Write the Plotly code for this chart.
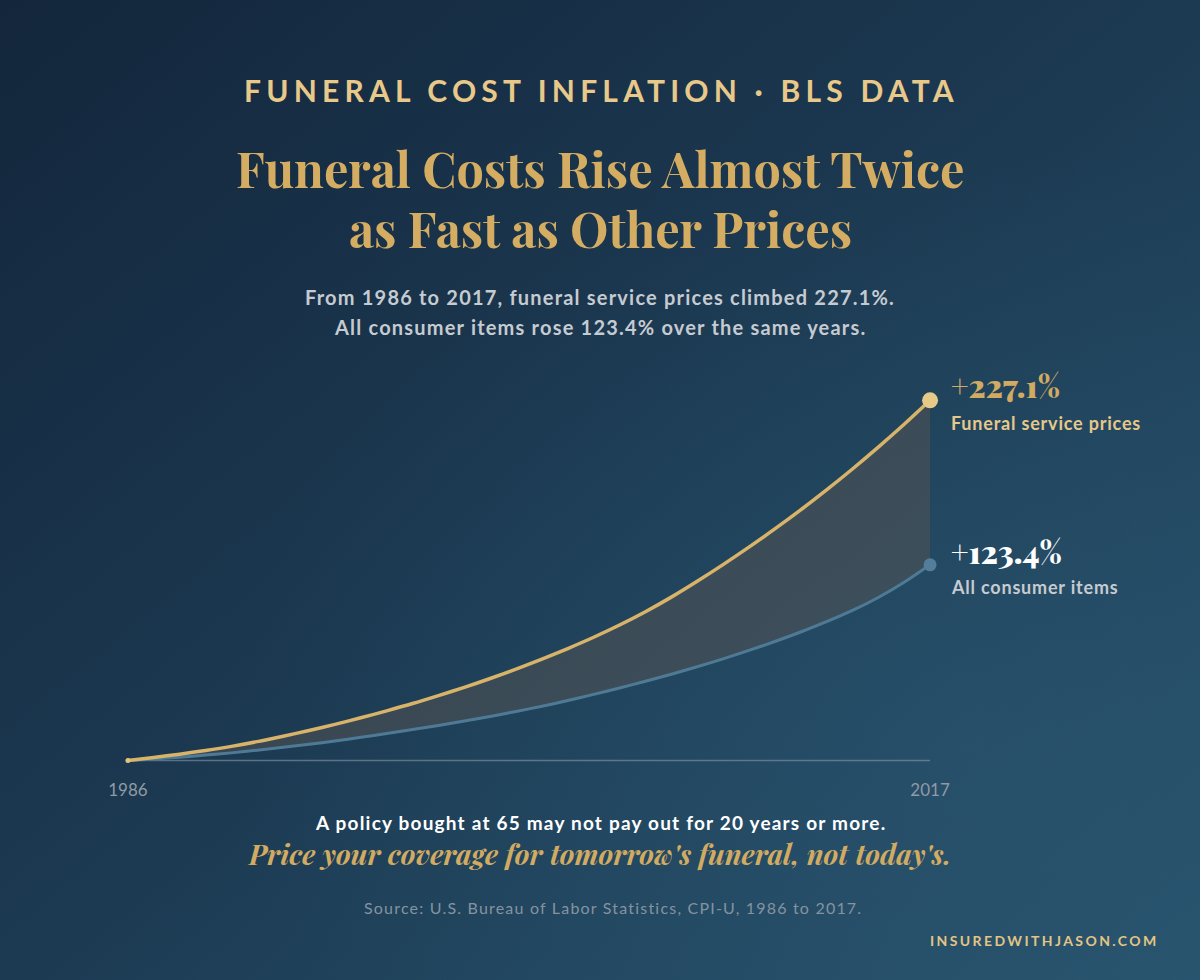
import base64
import plotly.graph_objects as go

# ---------------- data ----------------
years = list(range(1986, 2018))
funeral_pct = [0, 1.9, 4.0, 6.3, 8.9, 11.9, 15.3, 18.9, 22.8, 26.9, 31.3, 35.9, 40.9,
               46.1, 51.7, 57.6, 63.9, 70.6, 77.7, 85.4, 93.8, 103.0, 113.0, 123.5,
               134.5, 146.0, 158.0, 170.6, 183.8, 197.6, 212.0, 227.1]
consumer_pct = [0, 1.0, 2.1, 3.4, 4.8, 6.5, 8.3, 10.2, 12.3, 14.6, 17.0, 19.5, 22.1,
                24.9, 27.8, 30.9, 34.2, 37.8, 41.7, 45.7, 50.0, 54.4, 59.1, 64.1,
                69.4, 75.0, 81.0, 87.5, 94.6, 102.8, 112.4, 123.4]
end_labels = ["+227.1%", "+123.4%"]
series_names = ["Funeral service prices", "All consumer items"]
tick_years = [1986, 2017]

# ---------------- geometry ----------------
FW, FH = 1200, 980
ML, MR, MT, MB = 115, 257, 364, 210
PW, PH = FW - ML - MR, FH - MT - MB
X_RANGE = [1985.5, 2017.5]
Y_RANGE = [-6, 250]


def xp(px):
    return (px - ML) / PW


def yp(py):
    return (FH - MB - py) / PH


GOLD = "#d8b46a"
GOLD_LIGHT = "#e6c98a"
BLUE = "#4f7a96"
SANS = "Lato, 'Open Sans', sans-serif"
SERIF = "'Playfair Display', 'Liberation Serif', 'DejaVu Serif', serif"

svg = f"""<svg xmlns='http://www.w3.org/2000/svg' width='{FW}' height='{FH}' viewBox='0 0 {FW} {FH}' preserveAspectRatio='none'>
<defs>
<linearGradient id='g' x1='0' y1='0' x2='1' y2='1'>
<stop offset='0' stop-color='#13263b'/>
<stop offset='0.45' stop-color='#1b3850'/>
<stop offset='1' stop-color='#28536d'/>
</linearGradient>
<radialGradient id='r' cx='0.8' cy='0.75' r='0.6'>
<stop offset='0' stop-color='#2e5c78' stop-opacity='0.35'/>
<stop offset='1' stop-color='#2e5c78' stop-opacity='0'/>
</radialGradient>
</defs>
<rect width='{FW}' height='{FH}' fill='url(#g)'/>
<rect width='{FW}' height='{FH}' fill='url(#r)'/>
</svg>"""
bg_uri = "data:image/svg+xml;base64," + base64.b64encode(svg.encode()).decode()

fig = go.Figure()

fig.add_trace(go.Scatter(
    x=[years[0], years[-1]], y=[0, 0], mode="lines",
    line=dict(color="rgba(140,160,175,0.55)", width=1.5),
    hoverinfo="skip", showlegend=False))

fig.add_trace(go.Scatter(
    x=years, y=consumer_pct, mode="lines", name=series_names[1],
    line=dict(color=BLUE, width=3, shape="spline", smoothing=0.8),
    showlegend=False, cliponaxis=False))

fig.add_trace(go.Scatter(
    x=years, y=funeral_pct, mode="lines", name=series_names[0],
    line=dict(color=GOLD, width=3.5, shape="spline", smoothing=0.8),
    fill="tonexty", fillcolor="rgba(86,84,82,0.5)",
    showlegend=False, cliponaxis=False))

fig.add_trace(go.Scatter(
    x=[years[-1]], y=[consumer_pct[-1]], mode="markers",
    marker=dict(color="#527e9b", size=13), showlegend=False, cliponaxis=False))
fig.add_trace(go.Scatter(
    x=[years[-1]], y=[funeral_pct[-1]], mode="markers",
    marker=dict(color="#e6ca88", size=16), showlegend=False, cliponaxis=False))
fig.add_trace(go.Scatter(
    x=[years[0]], y=[funeral_pct[0]], mode="markers",
    marker=dict(color="#e3c47e", size=5), showlegend=False, cliponaxis=False))

annotations = []


def ann(text, x, y, size, color, family=SANS, weight="normal", xanchor="center",
        style="normal", ls=None):
    if ls is not None:
        text = f"<span style='letter-spacing:{ls}px'>{text}</span>"
    annotations.append(dict(
        text=text, x=xp(x), y=yp(y), xref="paper", yref="paper",
        xanchor=xanchor, yanchor="middle", showarrow=False,
        font=dict(size=size, color=color, family=family, weight=weight, style=style)))


ann("FUNERAL COST INFLATION · BLS DATA", 601, 90, 30, "#e8c98a", weight="bold", ls=5.2)
ann("Funeral Costs Rise Almost Twice", 600, 168, 48.5, "#d4ad63", family=SERIF, weight=700)
ann("as Fast as Other Prices", 600, 228, 48.5, "#d4ad63", family=SERIF, weight=700)
ann("From 1986 to 2017, funeral service prices climbed 227.1%.", 600, 297, 20,
    "#c6cbd1", weight="bold", ls=1.2)
ann("All consumer items rose 123.4% over the same years.", 600, 327, 20,
    "#c6cbd1", weight="bold", ls=1.2)

ann(end_labels[0], 949, 385, 31, "#d2ab62", family=SERIF, weight=900, xanchor="left")
ann(series_names[0], 949, 423, 18, GOLD_LIGHT, weight="bold", xanchor="left", ls=0.8)
ann(end_labels[1], 949, 551, 31, "#ffffff", family=SERIF, weight=900, xanchor="left")
ann(series_names[1], 949, 587, 18, "#c6cbd1", weight="bold", xanchor="left", ls=0.8)

ann("A policy bought at 65 may not pay out for 20 years or more.", 600, 822, 19,
    "#ffffff", weight="bold", ls=1.2)
ann("Price your coverage for tomorrow's funeral, not today's.", 599, 853, 28,
    "#d2ab62", family=SERIF, weight="bold", style="italic")
ann("Source: U.S. Bureau of Labor Statistics, CPI-U, 1986 to 2017.", 613, 907, 16,
    "#8593a0", ls=1.2)
ann("INSUREDWITHJASON.COM", 1161, 940, 14, "#e3c584", weight="bold", xanchor="right",
    ls=2.4)

fig.update_layout(
    width=FW, height=FH,
    margin=dict(l=ML, r=MR, t=MT, b=MB, pad=0),
    paper_bgcolor="#1c3a52",
    plot_bgcolor="rgba(0,0,0,0)",
    images=[dict(source=bg_uri, xref="paper", yref="paper", x=xp(0), y=yp(0),
                 sizex=FW / PW, sizey=FH / PH, xanchor="left", yanchor="top",
                 sizing="stretch", layer="below")],
    annotations=annotations,
    xaxis=dict(range=X_RANGE, showgrid=False, zeroline=False, showline=False,
               tickmode="array", tickvals=tick_years, ticktext=[str(t) for t in tick_years],
               ticks="", ticklabelstandoff=8,
               tickfont=dict(family=SANS, size=17, color="#8f9ba6"), fixedrange=True),
    yaxis=dict(range=Y_RANGE, showgrid=False, zeroline=False, showline=False,
               showticklabels=False, fixedrange=True),
    showlegend=False,
    hovermode=False,
)

fig.write_html("out.html")
